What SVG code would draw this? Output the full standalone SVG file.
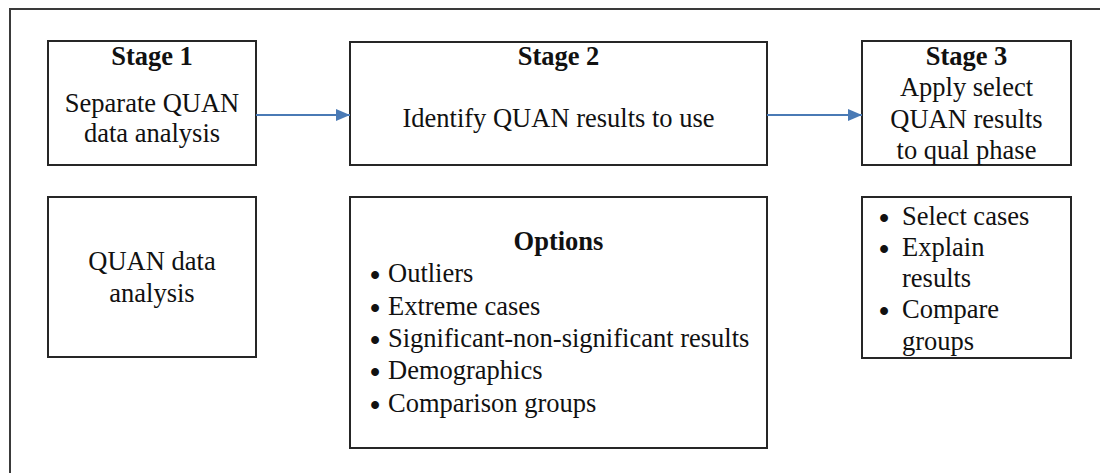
<svg xmlns="http://www.w3.org/2000/svg" width="1100" height="473" viewBox="0 0 1100 473">
  <style>
    .box { fill: #ffffff; stroke: #262626; stroke-width: 2; }
    .frame { fill: none; stroke: #3a3a3a; stroke-width: 2; }
    .c { text-anchor: middle; }
    .b { font-weight: bold; }
    .dot { text-anchor: middle; font-size: 29px; font-weight: bold; }
    .link { stroke: #4a7ab5; stroke-width: 2; fill: none; }
  </style>
  <defs>
    <marker id="arrow" viewBox="0 0 14 12" refX="14" refY="6" markerWidth="14" markerHeight="12" markerUnits="userSpaceOnUse" orient="auto">
      <path d="M0,0 L14,6 L0,12 Z" fill="#4a7ab5"/>
    </marker>
  </defs>

  <rect width="1100" height="473" fill="#ffffff"/>

  <!-- outer frame, open to the right and bottom -->
  <path class="frame" d="M10,473 L10,9 L1100,9"/>

  <g font-family="Liberation Serif, DejaVu Serif, serif" font-size="26.5" fill="#111111">
    <g id="stage1">
      <rect class="box" x="48" y="41" width="208" height="124"/>
      <text class="c b" x="152" y="65">Stage 1</text>
      <text class="c" x="152" y="112">Separate QUAN</text>
      <text class="c" x="152" y="142">data analysis</text>
    </g>

    <g id="stage2">
      <rect class="box" x="350" y="42" width="417" height="123"/>
      <text class="c b" x="558.5" y="65">Stage 2</text>
      <text class="c" x="558.5" y="127">Identify QUAN results to use</text>
    </g>

    <g id="stage3">
      <rect class="box" x="862" y="41" width="209" height="124"/>
      <text class="c b" x="966.5" y="65">Stage 3</text>
      <text class="c" x="966.5" y="96">Apply select</text>
      <text class="c" x="966.5" y="128">QUAN results</text>
      <text class="c" x="966.5" y="159">to qual phase</text>
    </g>

    <g id="quan-analysis">
      <rect class="box" x="48" y="197" width="208" height="160"/>
      <text class="c" x="152" y="270">QUAN data</text>
      <text class="c" x="152" y="302">analysis</text>
    </g>

    <g id="options">
      <rect class="box" x="350" y="197" width="417" height="251"/>
      <text class="c b" x="558.5" y="250">Options</text>
      <text class="dot" x="375" y="285">•</text><text x="388" y="282">Outliers</text>
      <text class="dot" x="375" y="318">•</text><text x="388" y="315">Extreme cases</text>
      <text class="dot" x="375" y="350">•</text><text x="388" y="347">Significant-non-significant results</text>
      <text class="dot" x="375" y="382">•</text><text x="388" y="379">Demographics</text>
      <text class="dot" x="375" y="415">•</text><text x="388" y="412">Comparison groups</text>
    </g>

    <g id="qual-uses">
      <rect class="box" x="862" y="197" width="209" height="161"/>
      <text class="dot" x="884" y="228">•</text><text x="902" y="225">Select cases</text>
      <text class="dot" x="884" y="259">•</text><text x="902" y="256">Explain</text>
      <text x="902" y="287">results</text>
      <text class="dot" x="884" y="321">•</text><text x="902" y="318">Compare</text>
      <text x="902" y="350">groups</text>
    </g>
  </g>

  <g id="connectors">
    <line class="link" x1="256" y1="115" x2="350" y2="115" marker-end="url(#arrow)"/>
    <line class="link" x1="767" y1="115" x2="862" y2="115" marker-end="url(#arrow)"/>
  </g>
</svg>
